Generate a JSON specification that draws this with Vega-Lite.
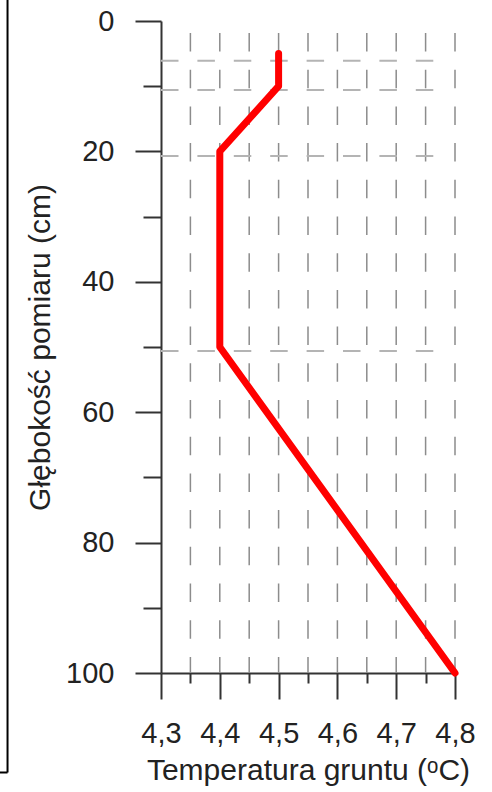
{
  "$schema": "https://vega.github.io/schema/vega-lite/v6.json",
  "width": 294,
  "height": 652,
  "autosize": {"type": "none"},
  "padding": {"left": 161, "top": 21, "right": 37, "bottom": 119},
  "background": "white",
  "config": {"view": {"stroke": null}, "font": "Liberation Sans"},
  "datasets": {
    "profile": [
      {"temp": 4.5, "depth": 5, "ord": 1},
      {"temp": 4.5, "depth": 10, "ord": 2},
      {"temp": 4.4, "depth": 20, "ord": 3},
      {"temp": 4.4, "depth": 50, "ord": 4},
      {"temp": 4.8, "depth": 100, "ord": 5}
    ],
    "vgrid": [
      {"t": 4.35, "top": 0, "bottom": 100},
      {"t": 4.4, "top": 0, "bottom": 100},
      {"t": 4.45, "top": 0, "bottom": 100},
      {"t": 4.5, "top": 0, "bottom": 100},
      {"t": 4.55, "top": 0, "bottom": 100},
      {"t": 4.6, "top": 0, "bottom": 100},
      {"t": 4.65, "top": 0, "bottom": 100},
      {"t": 4.7, "top": 0, "bottom": 100},
      {"t": 4.75, "top": 0, "bottom": 100},
      {"t": 4.8, "top": 0, "bottom": 100}
    ],
    "hgrid": [
      {"depth": 6.1, "from": 4.3, "to": 4.77},
      {"depth": 10.6, "from": 4.3, "to": 4.77},
      {"depth": 20.7, "from": 4.3, "to": 4.77},
      {"depth": 50.6, "from": 4.3, "to": 4.77}
    ],
    "frame": [
      {"x1": 4.039, "x2": 4.039, "y1": -4, "y2": 115.26},
      {"x1": 4.02, "x2": 4.039, "y1": 115.26, "y2": 115.26}
    ]
  },
  "resolve": {"axis": {"x": "independent", "y": "independent"}},
  "layer": [
    {
      "data": {"name": "frame"},
      "mark": {"type": "rule", "color": "#000000", "strokeWidth": 2},
      "encoding": {
        "x": {"field": "x1", "type": "quantitative", "scale": {"domain": [4.3, 4.8], "nice": false, "zero": false},
          "axis": {
            "orient": "bottom",
            "values": [4.3, 4.4, 4.5, 4.6, 4.7, 4.8],
            "title": "Temperatura gruntu (ᵒC)",
            "labelExpr": "replace(format(datum.value, '.1f'), '.', ',')",
            "tickSize": 26,
            "tickColor": "#333333", "tickWidth": 2,
            "domainColor": "#333333", "domainWidth": 2,
            "labelFontSize": 29, "labelColor": "#222222", "labelPadding": 20,
            "labelFlush": false, "labelOverlap": false,
            "titleFontSize": 30, "titleFontWeight": "normal", "titleColor": "#222222", "titlePadding": 7,
            "grid": false
          }},
        "x2": {"field": "x2"},
        "y": {"field": "y1", "type": "quantitative", "scale": {"domain": [0, 100], "reverse": true, "nice": false, "zero": false},
          "axis": {
            "orient": "left",
            "values": [0, 20, 40, 60, 80, 100],
            "title": "Głębokość pomiaru (cm)",
            "tickSize": 26,
            "tickColor": "#333333", "tickWidth": 2,
            "domainColor": "#333333", "domainWidth": 2,
            "labelFontSize": 29, "labelColor": "#222222", "labelPadding": 21,
            "labelFlush": false, "labelOverlap": false,
            "titleFontSize": 30, "titleFontWeight": "normal", "titleColor": "#222222", "titlePadding": 10,
            "grid": false
          }},
        "y2": {"field": "y2"}
      }
    },
    {
      "data": {"name": "vgrid"},
      "mark": {"type": "rule", "color": "#8c8c8c", "strokeWidth": 1.5, "strokeDash": [18.5, 18.2], "strokeDashOffset": 24.7},
      "encoding": {
        "x": {"field": "t", "type": "quantitative", "scale": {"domain": [4.3, 4.8], "nice": false, "zero": false},
          "axis": {
            "orient": "bottom",
            "values": [4.35, 4.45, 4.55, 4.65, 4.75],
            "title": null, "labels": false, "domain": false,
            "tickSize": 10, "tickColor": "#333333", "tickWidth": 2,
            "grid": false
          }},
        "y": {"field": "top", "type": "quantitative", "scale": {"domain": [0, 100], "reverse": true, "nice": false, "zero": false},
          "axis": {
            "orient": "left",
            "values": [10, 30, 50, 70, 90],
            "title": null, "labels": false, "domain": false,
            "tickSize": 18, "tickColor": "#333333", "tickWidth": 2,
            "grid": false
          }},
        "y2": {"field": "bottom"}
      }
    },
    {
      "data": {"name": "hgrid"},
      "mark": {"type": "rule", "color": "#b4b4b4", "strokeWidth": 2, "strokeDash": [17.5, 18.9]},
      "encoding": {
        "x": {"field": "from", "type": "quantitative", "scale": {"domain": [4.3, 4.8], "nice": false, "zero": false}, "axis": null},
        "x2": {"field": "to"},
        "y": {"field": "depth", "type": "quantitative", "scale": {"domain": [0, 100], "reverse": true, "nice": false, "zero": false}, "axis": null}
      }
    },
    {
      "data": {"name": "profile"},
      "mark": {"type": "line", "color": "#ff0000", "strokeWidth": 7, "strokeCap": "round", "strokeJoin": "round"},
      "encoding": {
        "x": {"field": "temp", "type": "quantitative", "scale": {"domain": [4.3, 4.8], "nice": false, "zero": false}, "axis": null},
        "y": {"field": "depth", "type": "quantitative", "scale": {"domain": [0, 100], "reverse": true, "nice": false, "zero": false}, "axis": null},
        "order": {"field": "ord", "type": "quantitative"}
      }
    }
  ]
}
